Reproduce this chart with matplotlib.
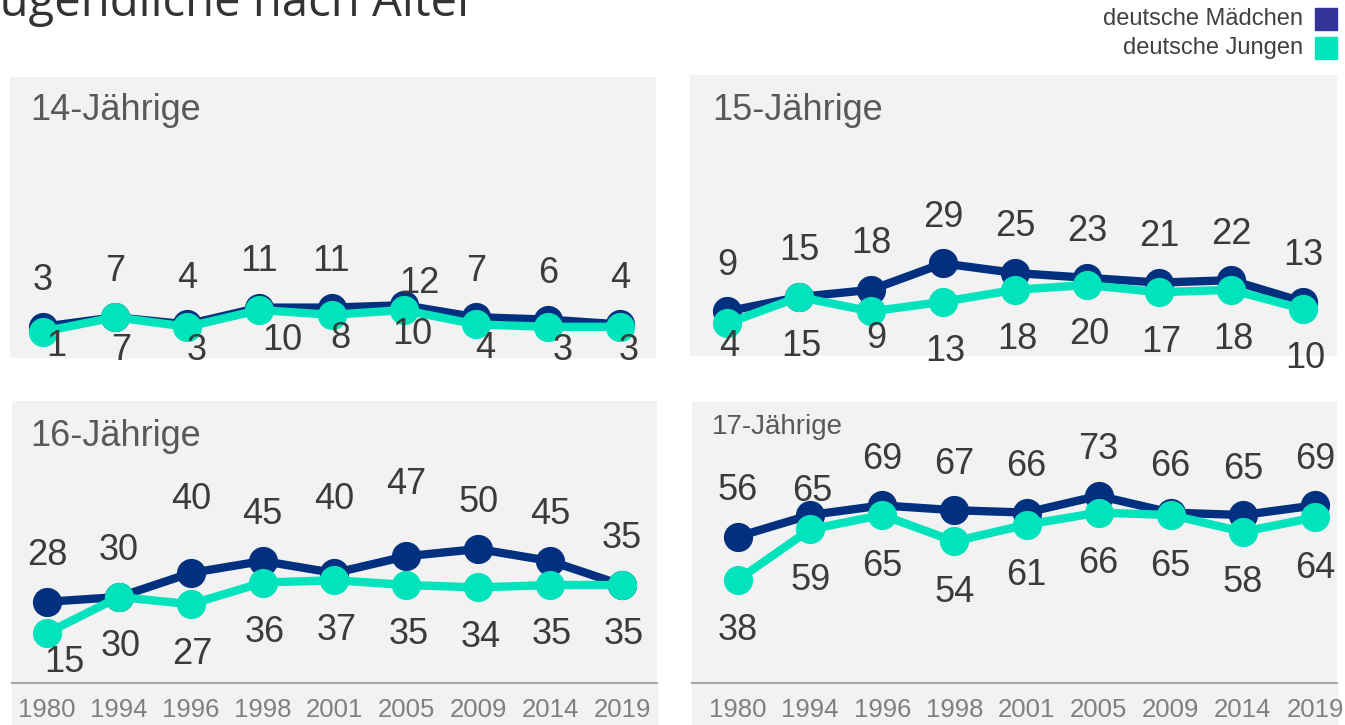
import matplotlib
matplotlib.use("Agg")
import matplotlib.pyplot as plt
from matplotlib.patches import Rectangle

# data
years = ["1980", "1994", "1996", "1998", "2001", "2005", "2009", "2014", "2019"]
ages = ["14-Jährige", "15-Jährige", "16-Jährige", "17-Jährige"]
maedchen_14 = [3, 7, 4, 11, 11, 12, 7, 6, 4]
jungen_14 = [1, 7, 3, 10, 8, 10, 4, 3, 3]
maedchen_15 = [9, 15, 18, 29, 25, 23, 21, 22, 13]
jungen_15 = [4, 15, 9, 13, 18, 20, 17, 18, 10]
maedchen_16 = [28, 30, 40, 45, 40, 47, 50, 45, 35]
jungen_16 = [15, 30, 27, 36, 37, 35, 34, 35, 35]
maedchen_17 = [56, 65, 69, 67, 66, 73, 66, 65, 69]
jungen_17 = [38, 59, 65, 54, 61, 66, 65, 58, 64]
series_names = ["deutsche Mädchen", "deutsche Jungen"]

W, H = 1345, 725
C_M = "#00307f"
C_J = "#00e3bc"
C_M_LEG = "#333399"
BG = "#f2f2f2"
TXT = "#3b3b3b"
FONT = "Liberation Sans"

fig = plt.figure(figsize=(W / 100, H / 100), dpi=100)


def fbox(x0, y0, x1, y1):
    # pixel box (top-left origin) -> figure fraction
    return [x0 / W, 1 - y1 / H, (x1 - x0) / W, (y1 - y0) / H]


# panel layout in pixels: box, pixel of first/last point, pixel of y=0
panels = [
    dict(box=(10, 77, 656, 358), xfirst=43, xlast=620, yzero=334,
         up=46, down=24, dxdown=9, title_xy=(30, 111), title_size=26,
         ticks=False),
    dict(box=(690, 75, 1337, 356), xfirst=727, xlast=1303, yzero=333,
         up=46, down=50, dxdown=2, title_xy=(712, 110), title_size=26,
         ticks=False),
    dict(box=(12, 401, 657, 683), xfirst=47, xlast=622, yzero=669,
         up=46, down=50, dxdown=2, title_xy=(30, 436), title_size=26,
         ticks=True),
    dict(box=(692, 402, 1337, 683), xfirst=738, xlast=1315, yzero=671,
         up=46, down=51, dxdown=0, title_xy=(712, 427), title_size=20,
         ticks=True),
]
data = [(maedchen_14, jungen_14), (maedchen_15, jungen_15),
        (maedchen_16, jungen_16), (maedchen_17, jungen_17)]

# a few hand placed labels in the original (px: dx, dy)
nudges = {
    (0, 0, 5): (16, 24), (0, 1, 0): (4, -9), (0, 1, 3): (14, 6),
    (0, 1, 1): (-3, 9), (0, 1, 7): (6, 0),
    (1, 1, 0): (0, -27), (1, 1, 2): (3, -23),
    (2, 0, 2): (0, -28), (2, 0, 4): (0, -28), (2, 0, 5): (0, -26),
    (2, 1, 0): (15, -21),
    (3, 0, 1): (2, 22),
}

s = 2.4  # px per unit
for p, (pan, (m, j)) in enumerate(zip(panels, data)):
    x0, y0, x1, y1 = pan["box"]
    ax = fig.add_axes(fbox(x0, y0, x1, y1))
    ax.set_facecolor(BG)
    step = (pan["xlast"] - pan["xfirst"]) / (len(years) - 1)
    ax.set_xlim(-(pan["xfirst"] - x0) / step, len(years) - 1 + (x1 - pan["xlast"]) / step)
    ax.set_ylim(-(y1 - pan["yzero"]) / s, (pan["yzero"] - y0) / s)
    for side in ["top", "right", "left"]:
        ax.spines[side].set_visible(False)
    ax.set_yticks([])
    if pan["ticks"]:
        ax.spines["bottom"].set_color("#a6a6a6")
        ax.spines["bottom"].set_linewidth(1.5)
        ax.set_xticks(range(len(years)))
        ax.set_xticklabels(years, fontsize=18.5, color="#7f7f7f", family=FONT)
        ax.tick_params(axis="x", length=0, pad=11)
        fig.patches.append(Rectangle((x0 / W, 0), (x1 - x0) / W, (H - y1) / H,
                                     transform=fig.transFigure, color=BG, zorder=-1))
    else:
        ax.spines["bottom"].set_visible(False)
        ax.set_xticks([])

    xs = list(range(len(years)))
    ax.plot(xs, m, color=C_M, lw=6, marker="o", ms=20, zorder=3, clip_on=False)
    ax.plot(xs, j, color=C_J, lw=6, marker="o", ms=20, zorder=4, clip_on=False)

    for k, vals in enumerate([m, j]):
        for i, v in enumerate(vals):
            if k == 0:
                dx, dy = 0, pan["up"]
            else:
                dx, dy = pan["dxdown"], -pan["down"]
            ndx, ndy = nudges.get((p, k, i), (0, 0))
            dx += ndx
            dy -= ndy
            ax.annotate(str(v), (i, v), xytext=(dx * 0.72, dy * 0.72),
                        textcoords="offset points", ha="center", va="center",
                        fontsize=26, color=TXT, family=FONT, zorder=5,
                        annotation_clip=False)

    tx, ty = pan["title_xy"]
    fig.text(tx / W, 1 - ty / H, ages[p], fontsize=pan["title_size"],
             color="#595959", family=FONT, va="center", ha="left")

# title, cut off at the top as in the original
fig.text(-12 / W, 1 - 16 / H, "Jugendliche nach Alter", fontsize=34,
         family="Open Sans", color="#333333", va="baseline", ha="left")

# legend
for k, (name, col) in enumerate(zip(series_names, [C_M_LEG, C_J])):
    yc = 19 + 29 * k
    fig.text(1303 / W, 1 - yc / H, name, fontsize=17, color="#404040",
             family=FONT, ha="right", va="center")
    fig.patches.append(Rectangle((1315 / W, 1 - (yc + 11) / H), 22 / W, 22 / H,
                                 transform=fig.transFigure, color=col))

fig.savefig("out.png", dpi=100)
